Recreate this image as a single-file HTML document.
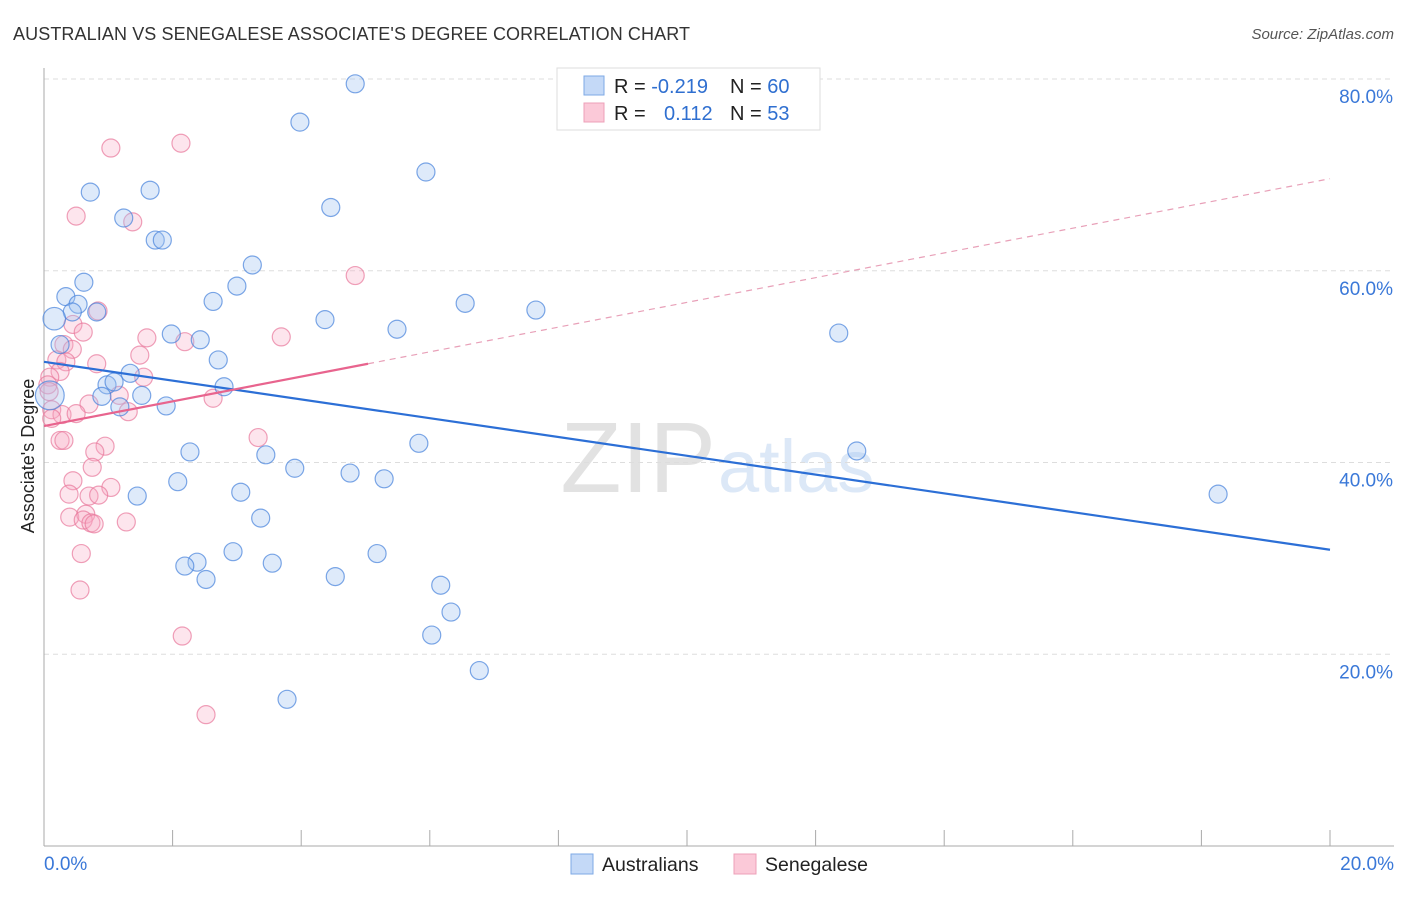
<!DOCTYPE html>
<html><head><meta charset="utf-8"><style>
body{margin:0;background:#fff;font-family:"Liberation Sans",sans-serif;}
svg text{font-family:"Liberation Sans",sans-serif;}
</style></head><body>
<svg id="chart" width="1406" height="892">
<text x="13" y="40" font-size="18" fill="#333" textLength="677">AUSTRALIAN VS SENEGALESE ASSOCIATE'S DEGREE CORRELATION CHART</text>
<text x="1394" y="39" font-size="15" fill="#555" font-style="italic" text-anchor="end">Source: ZipAtlas.com</text>
<text x="716" y="492" font-size="100" fill="#e2e2e2" text-anchor="end" font-family="Liberation Serif">ZIP</text>
<text x="718" y="492" font-size="74" fill="#dce8f7">atlas</text>
<g id="grid"></g>
<g id="axes"></g>
<g id="pts"></g>
<g id="trends"></g>
<text transform="translate(34,456) rotate(-90)" font-size="18" fill="#222" text-anchor="middle">Associate's Degree</text>
<g>
<rect x="557" y="68" width="263" height="62" fill="#fff" stroke="#ddd"/>
<rect x="584" y="76" width="20" height="19" fill="#c4d9f7" stroke="#7ea9e6"/>
<rect x="584" y="103" width="20" height="19" fill="#fbc9d8" stroke="#eea0b8"/>
<text x="614" y="93" font-size="20" fill="#222">R = <tspan fill="#2f6fd0">-0.219</tspan></text>
<text x="730" y="93" font-size="20" fill="#222">N = <tspan fill="#2f6fd0">60</tspan></text>
<text x="614" y="120" font-size="20" fill="#222">R = <tspan fill="#2f6fd0" x="664">0.112</tspan></text>
<text x="730" y="120" font-size="20" fill="#222">N = <tspan fill="#2f6fd0">53</tspan></text>
</g>
<g>
<rect x="571" y="854" width="22" height="20" fill="#c4d9f7" stroke="#7ea9e6"/>
<text x="602" y="871" font-size="19.5" fill="#222">Australians</text>
<rect x="734" y="854" width="22" height="20" fill="#fbc9d8" stroke="#eea0b8"/>
<text x="765" y="871" font-size="19.5" fill="#222">Senegalese</text>
</g>
</svg>
<script>
const yTicks=[20,40,60,80];
const yTickLabels=["20.0%","40.0%","60.0%","80.0%"];
const xTickLabels=["0.0%","20.0%"];
const ausX=[4.84,3.98,5.94,0.72,1.65,4.46,1.24,1.73,1.84,3.24,0.62,3.00,0.34,0.53,2.63,6.55,7.65,0.44,0.82,0.16,4.37,5.49,1.98,12.36,2.43,0.25,2.71,1.34,0.98,1.09,2.80,1.52,0.90,0.09,1.18,1.90,5.83,12.64,2.27,3.45,3.90,4.76,5.29,2.08,18.26,1.45,3.06,3.37,2.94,5.18,2.38,2.19,3.55,2.52,4.53,6.17,6.33,6.03,6.77,3.78];
const ausY=[79.5,75.5,70.3,68.2,68.4,66.6,65.5,63.2,63.2,60.6,58.8,58.4,57.3,56.5,56.8,56.6,55.9,55.7,55.7,55.0,54.9,53.9,53.4,53.5,52.8,52.3,50.7,49.3,48.1,48.4,47.9,47.0,46.9,47.0,45.8,45.9,42.0,41.2,41.1,40.8,39.4,38.9,38.3,38.0,36.7,36.5,36.9,34.2,30.7,30.5,29.6,29.2,29.5,27.8,28.1,27.2,24.4,22.0,18.3,15.3];
const ausSize=[1,1,1,1,1,1,1,1,1,1,1,1,1,1,1,1,1,1,1,1.25,1,1,1,1,1,1,1,1,1,1,1,1,1,1.6,1,1,1,1,1,1,1,1,1,1,1,1,1,1,1,1,1,1,1,1,1,1,1,1,1,1];
const senX=[2.13,1.04,0.50,1.38,4.84,0.84,0.45,0.61,1.60,3.69,2.19,0.31,0.44,1.49,0.20,0.34,0.82,0.25,0.09,1.55,0.06,1.17,0.08,2.63,0.70,0.12,0.28,0.50,1.31,0.12,3.33,0.25,0.31,0.95,0.79,0.75,0.45,1.04,0.39,0.70,0.85,0.40,0.65,0.61,0.73,0.78,1.28,0.58,0.56,2.15,2.52];
const senY=[73.3,72.8,65.7,65.1,59.5,55.8,54.4,53.6,53.0,53.1,52.6,52.3,51.8,51.2,50.7,50.5,50.3,49.5,48.9,48.9,48.1,47.0,47.4,46.7,46.1,45.5,45.0,45.1,45.3,44.6,42.6,42.3,42.3,41.7,41.1,39.5,38.1,37.4,36.7,36.5,36.6,34.3,34.6,34.0,33.7,33.6,33.8,30.5,26.7,21.9,13.7];
const ausTrend=[50.5,30.9];
const senTrend=[43.8,69.6];
const senSolidEnd=5.04;
const X0=44,X1=1330,Y0=846,YTOP=79;
const xs=v=>X0+v/20*(X1-X0);
const ys=v=>Y0-v/80*(Y0-YTOP);
const NS="http://www.w3.org/2000/svg";
function mk(p,t,a){const e=document.createElementNS(NS,t);for(const k in a)e.setAttribute(k,a[k]);p.appendChild(e);return e;}
const grid=document.getElementById('grid'),axes=document.getElementById('axes'),pts=document.getElementById('pts'),tr=document.getElementById('trends');
yTicks.forEach((t,i)=>{
 const l=mk(grid,'line',{x1:X0,x2:1394,y1:ys(t),y2:ys(t),stroke:'#ddd','stroke-dasharray':'5,4'});
 
 
 const tx=mk(grid,'text',{x:1393,y:ys(t)+24,'font-size':19,fill:'#3a78d8','text-anchor':'end'});tx.textContent=yTickLabels[i];
 
 
});
const ya=mk(axes,'line',{x1:X0,x2:X0,y1:68,y2:Y0,stroke:'#aaa'});


const xa=mk(axes,'line',{x1:X0,x2:1394,y1:Y0,y2:Y0,stroke:'#aaa'});


for(let i=0;i<=10;i++){const tk=mk(axes,'line',{x1:xs(i*2),x2:xs(i*2),y1:830,y2:Y0,stroke:'#aaa'});
 
 }
[[0,'start',X0],[1,'end',1394]].forEach(([i,a,x])=>{const t=mk(axes,'text',{x:x,y:870,'font-size':19,fill:'#3a78d8','text-anchor':a});t.textContent=xTickLabels[i];
 
 });
senX.forEach((v,i)=>{const c=mk(pts,'circle',{cx:xs(v),cy:ys(senY[i]),r:9,fill:'rgba(248,170,195,0.3)',stroke:'rgba(232,120,155,0.7)','stroke-width':1.2});
 
 });
ausX.forEach((v,i)=>{const c=mk(pts,'circle',{cx:xs(v),cy:ys(ausY[i]),r:9*ausSize[i],fill:'rgba(160,195,240,0.35)',stroke:'rgba(70,130,220,0.7)','stroke-width':1.2});
 
 });
const bt=mk(tr,'line',{x1:xs(0),y1:ys(ausTrend[0]),x2:xs(20),y2:ys(ausTrend[1]),stroke:'#2c6fd6','stroke-width':2.2});


const sm=senTrend[0]+(senTrend[1]-senTrend[0])*senSolidEnd/20;
const ps=mk(tr,'line',{x1:xs(0),y1:ys(senTrend[0]),x2:xs(senSolidEnd),y2:ys(sm),stroke:'#e8648e','stroke-width':2.2});


const pd=mk(tr,'line',{x1:xs(senSolidEnd),y1:ys(sm),x2:xs(20),y2:ys(senTrend[1]),stroke:'#e8a0b8','stroke-width':1.2,'stroke-dasharray':'6,5'});


</script>
</body></html>
